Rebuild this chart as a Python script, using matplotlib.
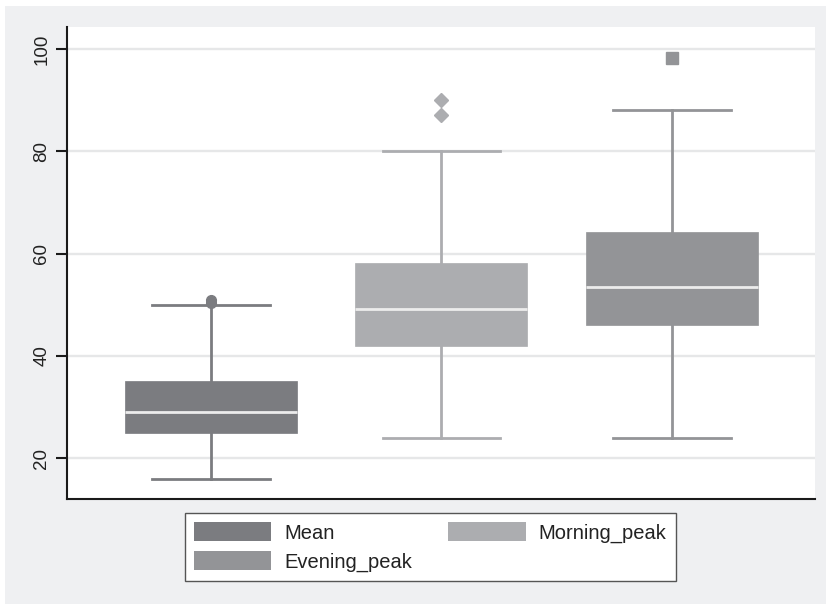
import matplotlib.pyplot as plt
from matplotlib.patches import Patch, Rectangle

plt.rcParams["font.family"] = ["Liberation Sans", "DejaVu Sans"]

# five-number summaries read per group, plus flagged outliers
groups = ["Mean", "Morning_peak", "Evening_peak"]
whislo = [16, 24, 24]
q1 = [25, 42, 46]
med = [29, 49.2, 53.5]
q3 = [35, 58.2, 64.2]
whishi = [50, 80, 88]
fliers = [[50.3, 51], [87, 90], [98.2]]

colors = ["#7b7c80", "#acadb0", "#939497"]
markers = ["o", "D", "s"]
msizes = [7, 7, 8]

fig = plt.figure(figsize=(8.26, 6.07), dpi=100, facecolor="white")
fig.patches.append(Rectangle((5 / 826, 0.005), 1, 1 - 6 / 607 - 0.005,
                             transform=fig.transFigure, facecolor="#eff0f2",
                             edgecolor="none", zorder=-10))
ax = fig.add_axes([67 / 826, 1 - 499 / 607, (815 - 67) / 826, (499 - 27) / 607])
ax.set_facecolor("white")

stats = [dict(whislo=whislo[i], q1=q1[i], med=med[i], q3=q3[i], whishi=whishi[i],
              fliers=[], label=groups[i]) for i in range(3)]

for i, st in enumerate(stats):
    c = colors[i]
    ax.bxp([st], positions=[i + 1], widths=0.745, patch_artist=True,
           showfliers=False, capwidths=0.51,
           boxprops=dict(facecolor=c, edgecolor=c, linewidth=0.5),
           medianprops=dict(color="#ececec", linewidth=2),
           whiskerprops=dict(color=c, linewidth=2),
           capprops=dict(color=c, linewidth=2), zorder=3)
    ax.plot([i + 1] * len(fliers[i]), fliers[i], linestyle="none",
            marker=markers[i], color=c, markersize=msizes[i], zorder=4)

ax.set_xlim(0.377, 3.62)
ax.set_ylim(12, 104.3)
ax.set_yticks([20, 40, 60, 80, 100])
ax.set_xticks([])
ax.yaxis.grid(True, color="#e6e7e8", linewidth=1.7)
ax.set_axisbelow(True)
for s in ["top", "right"]:
    ax.spines[s].set_visible(False)
for s in ["left", "bottom"]:
    ax.spines[s].set_color("#1a1a1a")
    ax.spines[s].set_linewidth(1.5)
ax.tick_params(axis="y", length=8, width=1.5, color="#1a1a1a", labelsize=13.5,
               labelcolor="#222222", pad=4)
for lab in ax.get_yticklabels():
    lab.set_rotation(90)
    lab.set_verticalalignment("center")

handles = [Patch(facecolor=colors[0]), Patch(facecolor=colors[2]),
           Patch(facecolor=colors[1])]
labels = ["Mean", "Evening_peak", "Morning_peak"]
leg = fig.legend(handles, labels, ncol=2, loc="upper left",
                 bbox_to_anchor=(185 / 826, 1 - 513 / 607), frameon=True,
                 fancybox=False, edgecolor="#555555", facecolor="white",
                 framealpha=1, fontsize=14.5, handlelength=3.83,
                 handleheight=1.1, handletextpad=0.65, columnspacing=1.8,
                 labelspacing=0.42, borderpad=0.45, borderaxespad=0)
leg.get_frame().set_linewidth(1)
for t in leg.get_texts():
    t.set_color("#222222")

fig.savefig("out.png", dpi=100, facecolor=fig.get_facecolor())
